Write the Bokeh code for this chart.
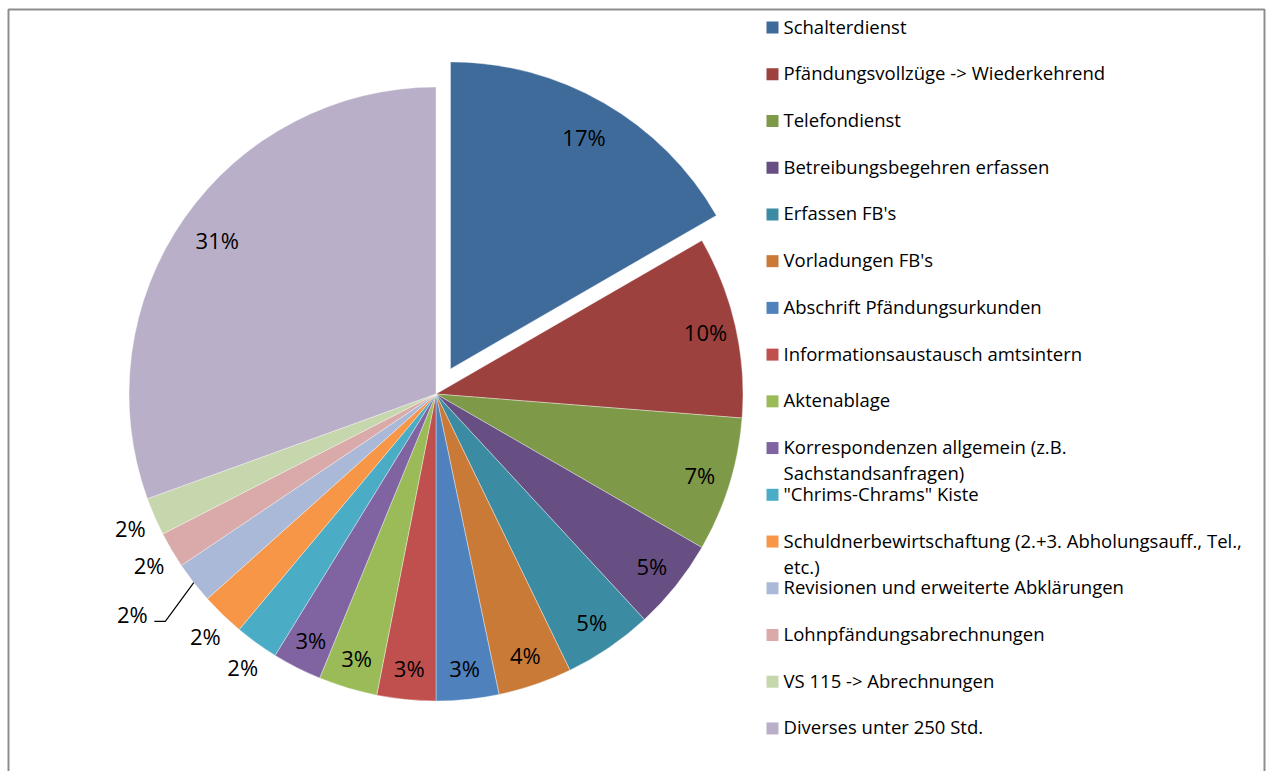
import math
from bokeh.plotting import figure
from bokeh.models import Range1d, ColumnDataSource
from bokeh.embed import file_html
from bokeh.resources import INLINE
from bokeh.core.properties import value

# ---------------- data ----------------
categories = [
    "Schalterdienst",
    "Pfändungsvollzüge -> Wiederkehrend",
    "Telefondienst",
    "Betreibungsbegehren erfassen",
    "Erfassen FB's",
    "Vorladungen FB's",
    "Abschrift Pfändungsurkunden",
    "Informationsaustausch amtsintern",
    "Aktenablage",
    "Korrespondenzen allgemein (z.B.\nSachstandsanfragen)",
    "\"Chrims-Chrams\" Kiste",
    "Schuldnerbewirtschaftung (2.+3. Abholungsauff., Tel.,\netc.)",
    "Revisionen und erweiterte Abklärungen",
    "Lohnpfändungsabrechnungen",
    "VS 115 -> Abrechnungen",
    "Diverses unter 250 Std.",
]
shares = [16.7, 9.6, 7.1, 4.8, 4.7, 3.9, 3.3, 3.1, 3.1, 2.6, 2.3, 2.3, 2.2, 1.9, 2.0, 30.6]
colors = [
    "#3F6B9B", "#9D413E", "#7E9A48", "#674F84", "#3B8CA2", "#CA7A37",
    "#4F81BD", "#C0504D", "#9BBB59", "#8064A2", "#4BACC6", "#F79646",
    "#AAB9D7", "#D9AAA9", "#C6D7AD", "#BAAFC9",
]

# ---------------- layout ----------------
W, H = 1270, 771
TEXT_SHIFT = 8.5  # baseline correction for the renderer


def X(px):
    return px


def Y(py):
    return H - py


p = figure(width=W, height=H, x_range=Range1d(0, W), y_range=Range1d(0, H),
           output_backend="svg", toolbar_location=None,
           x_axis_type=None, y_axis_type=None, min_border=0,
           outline_line_color=None, background_fill_color="white",
           border_fill_color="white")
p.xgrid.visible = False
p.ygrid.visible = False

# chart-area frame (left, top, right)
p.multi_line(xs=[[X(8), X(8), X(1264), X(1264)]], ys=[[-5, Y(9), Y(9), -5]],
             line_color="#8E8E8E", line_width=2)

cx, cy, R = X(435.5), Y(393.5), 307.0
explode = 29.0
total = sum(shares)

xs, ys, starts, ends = [], [], [], []
lab_x, lab_y, lab_t = [], [], []
leader_x, leader_y = [], []
cum = 0.0
for i, v in enumerate(shares):
    f0 = cum / total
    cum += v
    f1 = cum / total
    mid = (f0 + f1) / 2
    th = math.pi / 2 - 2 * math.pi * mid
    ox = oy = 0.0
    if i == 0:
        ox, oy = explode * math.cos(th), explode * math.sin(th)
    xs.append(cx + ox)
    ys.append(cy + oy)
    starts.append(math.pi / 2 - 2 * math.pi * f0)
    ends.append(math.pi / 2 - 2 * math.pi * f1)
    pct = v / total * 100
    txt = f"{round(pct)}%"
    if pct >= 2.5:
        r = R * (0.87 if pct > 15 else 0.9)
        lx, ly = cx + ox + r * math.cos(th), cy + oy + r * math.sin(th)
    else:
        if i == 12:
            r = R * 1.2
            lx, ly = cx + r * math.cos(th) - 13, cy + r * math.sin(th) + 6
            ex, ey = cx + R * math.cos(th), cy + R * math.sin(th)
            leader_x.append([lx + 22, lx + 33, ex])
            leader_y.append([ly - 7, ly - 7, ey])
        else:
            r = R * 1.1
            lx = cx + r * math.cos(th) + 4
            ly = cy + r * math.sin(th)
    lab_x.append(lx)
    lab_y.append(ly - 7.9 + TEXT_SHIFT)
    lab_t.append(txt)

src = ColumnDataSource(dict(x=xs, y=ys, s=starts, e=ends, c=colors))
p.wedge(x="x", y="y", radius=R, start_angle="s", end_angle="e",
        direction="clock", fill_color="c", line_color="white",
        line_width=0.6, line_alpha=0.6, source=src)

if leader_x:
    p.multi_line(xs=leader_x, ys=leader_y, line_color="black", line_width=1.2)

p.text(x=lab_x, y=lab_y, text=lab_t, text_font=value("Open Sans"),
       text_font_size="22px", text_align="center", text_baseline="alphabetic",
       text_color="black")

# ---------------- legend ----------------
row0, step = 27.0, 46.73
sq_x, sq_y = [], []
lt_x, lt_y, lt_t = [], [], []
for i, name in enumerate(categories):
    yc = row0 + i * step
    sq_x.append(X(772))
    sq_y.append(Y(yc))
    for k, line in enumerate(name.split("\n")):
        lt_x.append(X(783))
        lt_y.append(Y(yc + 7 + k * 26) + TEXT_SHIFT)
        lt_t.append(line)

p.rect(x=sq_x, y=sq_y, width=12, height=12, fill_color=colors, line_color=None)
p.text(x=lt_x, y=lt_y, text=lt_t, text_font=value("Open Sans"),
       text_font_size="18.5px", text_align="left", text_baseline="alphabetic",
       text_color="black")

open("out.html", "w").write(file_html(p, INLINE))
